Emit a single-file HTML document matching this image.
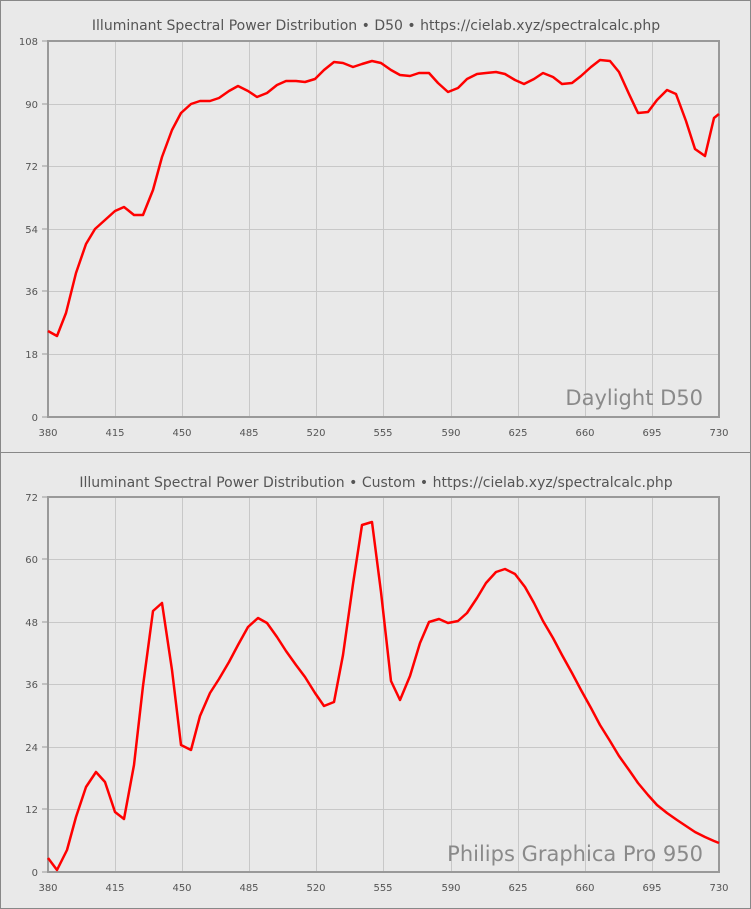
<!DOCTYPE html><html><head><style>body{margin:0;background:#e9e9e9}svg{display:block}text{font-family:"DejaVu Sans","Liberation Sans",sans-serif}</style></head><body>
<svg width="751" height="909" xmlns="http://www.w3.org/2000/svg">
<rect x="0.5" y="0.5" width="750" height="908" fill="#e9e9e9" stroke="#888"/>
<line x1="0" y1="452.5" x2="751" y2="452.5" stroke="#888"/>
<g stroke="#c8c8c8" stroke-width="1">
<path d="M115.5 41V417M182.5 41V417M249.5 41V417M316.5 41V417M383.5 41V417M451.5 41V417M518.5 41V417M585.5 41V417M652.5 41V417M48 104.5H719M48 166.5H719M48 229.5H719M48 291.5H719M48 354.5H719"/>
<path d="M115.5 497V872M182.5 497V872M249.5 497V872M316.5 497V872M383.5 497V872M451.5 497V872M518.5 497V872M585.5 497V872M652.5 497V872M48 559.5H719M48 622.5H719M48 684.5H719M48 747.5H719M48 809.5H719"/>
</g>
<rect x="48" y="41" width="671" height="376" fill="none" stroke="#999" stroke-width="2"/>
<rect x="48" y="497" width="671" height="375" fill="none" stroke="#999" stroke-width="2"/>
<g stroke="#999"><path d="M42 41H48M42 104H48M42 166H48M42 229H48M42 291H48M42 354H48M42 417H48M42 497H48M42 559H48M42 622H48M42 684H48M42 747H48M42 809H48M42 872H48"/></g>
<g font-size="10" fill="#555" text-anchor="end">
<text x="38" y="45">108</text><text x="38" y="108">90</text><text x="38" y="170">72</text><text x="38" y="233">54</text><text x="38" y="295">36</text><text x="38" y="358">18</text><text x="38" y="421">0</text>
<text x="38" y="501">72</text><text x="38" y="563">60</text><text x="38" y="626">48</text><text x="38" y="688">36</text><text x="38" y="751">24</text><text x="38" y="813">12</text><text x="38" y="876">0</text>
</g>
<g font-size="10" fill="#555" text-anchor="middle">
<text x="48" y="436">380</text><text x="115" y="436">415</text><text x="182" y="436">450</text><text x="249" y="436">485</text><text x="316" y="436">520</text><text x="383" y="436">555</text><text x="451" y="436">590</text><text x="518" y="436">625</text><text x="585" y="436">660</text><text x="652" y="436">695</text><text x="719" y="436">730</text>
<text x="48" y="891">380</text><text x="115" y="891">415</text><text x="182" y="891">450</text><text x="249" y="891">485</text><text x="316" y="891">520</text><text x="383" y="891">555</text><text x="451" y="891">590</text><text x="518" y="891">625</text><text x="585" y="891">660</text><text x="652" y="891">695</text><text x="719" y="891">730</text>
</g>
<g font-size="14" fill="#555" text-anchor="middle">
<text x="376" y="30">Illuminant Spectral Power Distribution  • D50 •  https://cielab.xyz/spectralcalc.php</text>
<text x="376" y="487">Illuminant Spectral Power Distribution • Custom • https://cielab.xyz/spectralcalc.php</text>
</g>
<g font-size="21" fill="#8a8a8a" text-anchor="end" style="font-family:'Liberation Sans',sans-serif">
<text x="703" y="405">Daylight D50</text>
<text x="703" y="861">Philips Graphica Pro 950</text>
</g>
<g fill="none" stroke="#f00" stroke-width="2.5" stroke-linejoin="round">
<polyline points="48,331 57,336 66,313 76,273 86,244 95,229 105,220 115,211 124,207 134,215 143,215 153,190 162,157 172,130 181,113 191,104 200,101 210,101 219,98 229,91 238,86 248,91 257,97 267,93 277,85 286,81 296,81 305,82 315,79 324,70 334,62 343,63 353,67 362,64 372,61 381,63 391,70 400,75 410,76 419,73 429,73 438,83 448,92 458,88 467,79 477,74 486,73 496,72 505,74 515,80 524,84 534,79 543,73 553,77 562,84 572,83 581,76 591,67 600,60 610,61 619,72 629,94 638,113 648,112 657,100 667,90 676,94 686,121 695,149 705,156 714,118 719,114"/>
<polyline points="48,858 57,870 67,850 76,817 86,787 96,772 105,782 115,812 124,819 134,765 143,686 153,611 162,603 172,670 181,745 191,750 200,716 210,693 219,679 229,662 238,645 248,627 258,618 267,623 277,637 286,651 296,665 305,677 315,693 324,706 334,702 343,655 353,584 362,525 372,522 381,592 391,681 400,700 410,676 420,643 429,622 439,619 448,623 458,621 467,613 477,598 486,583 496,572 505,569 515,574 525,587 534,603 543,621 553,638 562,655 572,673 581,690 591,708 600,725 610,741 619,756 629,770 638,783 648,795 657,805 667,813 677,820 686,826 695,832 705,837 714,841 719,843"/>
</g>
</svg></body></html>
